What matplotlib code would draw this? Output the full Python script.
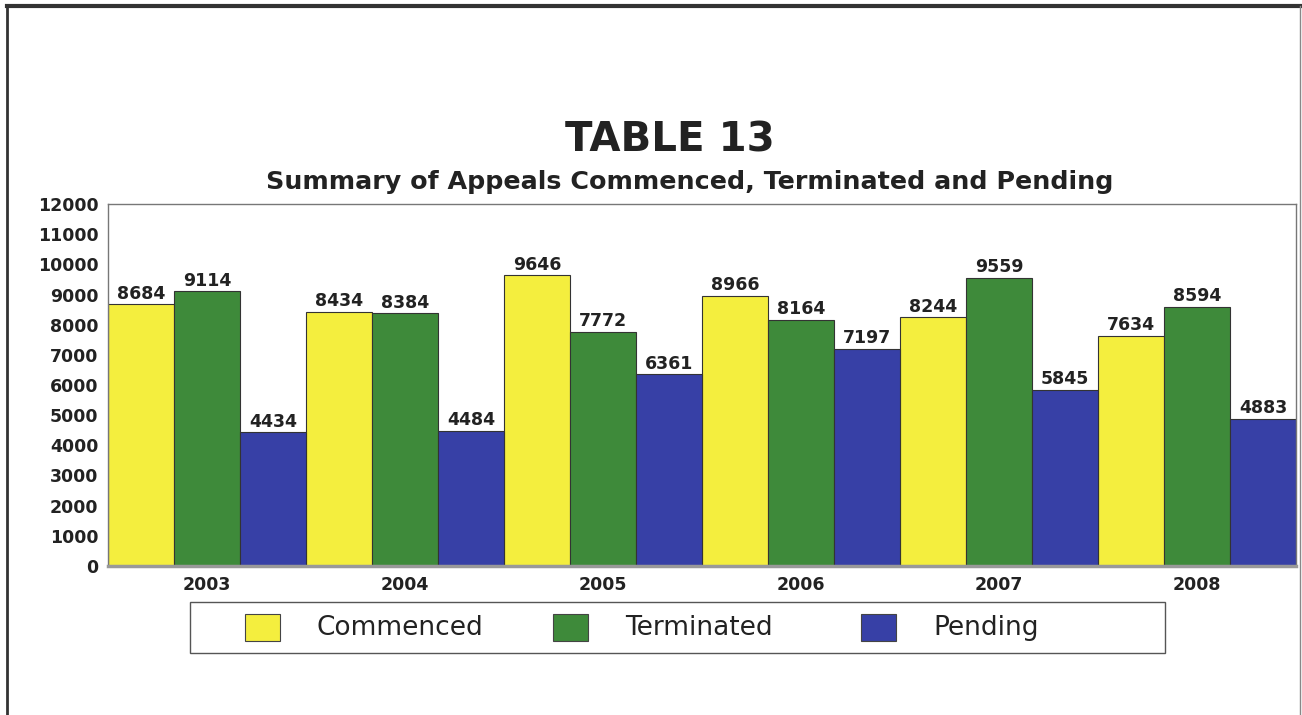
import numpy as np
import matplotlib.pyplot as plt
from matplotlib.lines import Line2D
from matplotlib.patches import Rectangle

plt.rcParams['font.family'] = ['DejaVu Sans']

years = ['2003', '2004', '2005', '2006', '2007', '2008']
commenced = [8684, 8434, 9646, 8966, 8244, 7634]
terminated = [9114, 8384, 7772, 8164, 9559, 8594]
pending = [4434, 4484, 6361, 7197, 5845, 4883]

series = ['Commenced', 'Terminated', 'Pending']
colors = ['#f4ee3e', '#3e8a3a', '#3740a6']

W, H = 1302, 715
fig = plt.figure(figsize=(W / 100, H / 100), dpi=100)
ax = fig.add_axes([108 / W, 1 - 566 / H, 1188 / W, 362 / H])

x = np.arange(len(years))
w = 1 / 3
for i, (vals, c) in enumerate(zip([commenced, terminated, pending], colors)):
    bars = ax.bar(x + (i - 1) * w, vals, w, color=c, edgecolor='#333333',
                  linewidth=0.8, label=series[i])
    for b, v in zip(bars, vals):
        ax.text(b.get_x() + b.get_width() / 2, v + 50, str(v), ha='center',
                va='bottom', fontsize=12.5, fontweight='bold', color='#222222')

ax.set_xlim(-0.5, 5.5)
ax.set_ylim(0, 12000)
ax.set_yticks(range(0, 12001, 1000))
ax.set_xticks(x)
ax.set_xticklabels(years)
ax.tick_params(length=0, labelsize=12.5, pad=7)
for lab in ax.get_xticklabels() + ax.get_yticklabels():
    lab.set_fontweight('bold')
    lab.set_color('#222222')
for s in ax.spines.values():
    s.set_color('#777777')
    s.set_linewidth(1)
ax.spines['bottom'].set_linewidth(2.5)
ax.spines['bottom'].set_color('#999999')

fig.text(670 / W, 1 - 140 / H, 'TABLE 13', ha='center', va='center',
         fontsize=29, fontweight='bold', color='#222222')
fig.text(690 / W, 1 - 182 / H, 'Summary of Appeals Commenced, Terminated and Pending',
         ha='center', va='center', fontsize=18.3, fontweight='bold', color='#222222')

# legend box with equal-width columns
fig.add_artist(Rectangle((190 / W, 1 - 653 / H), 975 / W, 51 / H,
                         transform=fig.transFigure, facecolor='none',
                         edgecolor='#555555', linewidth=1))
for i, (name, c) in enumerate(zip(series, colors)):
    x0 = 245 + i * 308
    fig.add_artist(Rectangle((x0 / W, 1 - 641 / H), 35 / W, 27 / H,
                             transform=fig.transFigure, facecolor=c,
                             edgecolor='#444444', linewidth=0.8))
    fig.text((x0 + 72) / W, 1 - 628 / H, name, ha='left', va='center',
             fontsize=19, color='#222222')

# outer frame
fig.add_artist(Line2D([7 / W, 1300 / W], [1 - 6 / H, 1 - 6 / H],
                      color='#333333', linewidth=3))
fig.add_artist(Line2D([7 / W, 7 / W], [0, 1 - 6 / H],
                      color='#333333', linewidth=2))
fig.add_artist(Line2D([1300 / W, 1300 / W], [0, 1 - 6 / H],
                      color='#888888', linewidth=1))

fig.savefig('out.png', dpi=100)
